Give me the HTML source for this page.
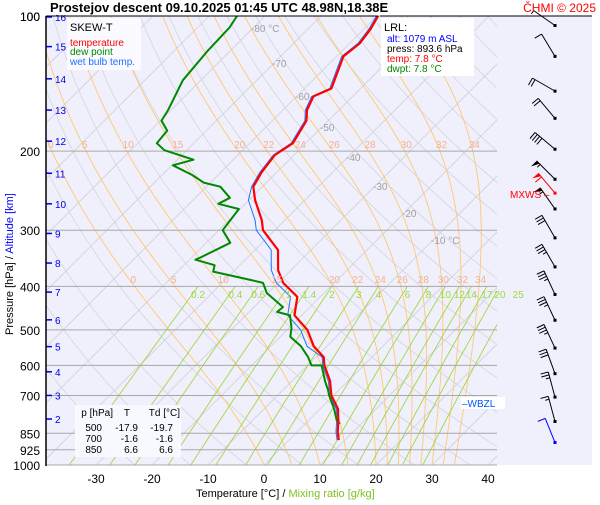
<!DOCTYPE html>
<html><head><meta charset="utf-8"><style>
body{margin:0;background:#fff;width:600px;height:500px;overflow:hidden}
svg text{font-family:"Liberation Sans",sans-serif}
</style></head><body>
<svg id="c" width="600" height="500" xmlns="http://www.w3.org/2000/svg">
<rect x="46" y="16" width="546" height="449" fill="#f0f0fc"/>
<g id="grid"></g><g id="series"></g><g id="labels"></g>
</svg>
<script>
const pressureTicks=[100,200,300,400,500,600,700,850,925,1000];
const tempTicks=[-30,-20,-10,0,10,20,30,40];
const isoTemps=[-110,-100,-90,-80,-70,-60,-50,-40,-30,-20,-10,0,10,20,30,40];
const moistThetaW=[0,5,10,15,20,22,24,26,28,30,32,34];
const mixingRatios=[0.2,0.4,0.6,1,1.4,2,3,4,6,8,10,12,14,17,20,25];
const altKm=[2,3,4,5,6,7,8,9,10,11,12,13,14,15,16];
const altKmPressure=[790,700,620,545,475,412,355,305,262,224,190,162,138,117,100.5];
const tempP=[880,845,800,750,700,650,600,575,544,500,464,422,393,368,332,300,285,257,240,223,204,192,171,162,151,145,123,115,107,100];
const tempT=[8.9,7.3,5.5,3.2,-0.4,-3.2,-7,-8.6,-12.3,-16.4,-21.3,-24.1,-29.1,-32.3,-35.9,-42.1,-44.1,-48.9,-51.6,-52.7,-53.4,-52.3,-53.9,-55.7,-57,-55.2,-58.8,-58.2,-58.8,-59.8];
const dewP=[810,795,750,700,680,650,600,600,575,544,518,496,464,456,445,414,393,387,371,359,349,345,320,300,269,262,254,240,235,226,215,209,199,192,180,171,162,139,120,106,100];
const dewT=[6.2,5,2.5,-0.8,-2,-4.1,-7.5,-9.3,-11.4,-14.6,-18.2,-19.5,-22.1,-25,-24.8,-30.2,-32.7,-35.5,-43.6,-44.5,-48.9,-48.4,-45.7,-49.3,-50.2,-54.8,-53.8,-57.5,-61.2,-64.6,-69.8,-67.1,-74,-76.6,-77,-79.8,-80.5,-83.2,-84,-84.3,-85];
const windP=[105,123,147,169,198,231,269,312,362,417,476,549,626,706,800,891];
const windDir=[305,329,300,320,310,315,325,330,330,335,335,335,340,345,345,338];
const windKt=[5,10,20,20,40,55,55,30,35,35,35,35,30,25,15,10];
const maxWindP=[248];
const maxWindDir=[320];
const maxWindKt=[60];

const X0=264,Y1000=465,K=5.6,H=449;
function yP(p){return 16+Math.log10(p/100)*H;}
function xT(t,p){return X0+K*t+(Y1000-yP(p));}
const NS="http://www.w3.org/2000/svg";
function mk(parent,tag,attrs){const e=document.createElementNS(NS,tag);for(const k in attrs)e.setAttribute(k,attrs[k]);document.getElementById(parent).appendChild(e);return e;}
function txt(parent,x,y,s,attrs){const e=mk(parent,'text',Object.assign({x:x,y:y},attrs));e.textContent=s;return e;}
function pathFrom(pts){return pts.map((q,i)=>(i?'L':'M')+q[0].toFixed(1)+','+q[1].toFixed(1)).join('');}
const clip=mk('grid','clipPath',{id:'pc'});
const cr=document.createElementNS(NS,'rect');cr.setAttribute('x',46);cr.setAttribute('y',16);cr.setAttribute('width',451);cr.setAttribute('height',449);clip.appendChild(cr);
const g=mk('grid','g',{'clip-path':'url(#pc)'});g.id='gg';
for(let th=250;th<=480;th+=10){const pts=[];for(let p=1000;p>=100;p-=10)pts.push([xT(th*Math.pow(p/1000,0.286)-273.15,p),yP(p)]);
const e=mk('gg','path',{d:pathFrom(pts),fill:'none',stroke:'#d4d4dc','stroke-width':0.8});
}
isoTemps.forEach(t=>{const e=mk('gg','line',{x1:xT(t,1000),y1:yP(1000),x2:xT(t,100),y2:yP(100),stroke:'#d0d0d8','stroke-width':0.8});
});
function es(t){return 6.112*Math.exp(17.67*t/(t+243.5));}
moistThetaW.forEach(tw=>{let t=tw,pts=[];for(let p=1000;p>=100;p-=5){pts.push([xT(t,p),yP(p)]);
const T=t+273.15,e=es(t),rs=0.622*e/(p-e),L=2.5e6;const dTdp=(287*T+L*rs)/(p*(1004+L*L*rs*0.622/(287*T*T)));t-=dTdp*5;}
const e=mk('gg','path',{d:pathFrom(pts),fill:'none',stroke:'#ffc870','stroke-width':0.9});

const p200=(1000-200)/5;const lb=txt('labels',pts[p200][0]-4,148,String(tw),{'font-size':10,fill:'#f5b090'});

const p400=(1000-400)/5;const lb2=txt('labels',pts[p400][0]-4,283,String(tw),{'font-size':10,fill:'#f5b090'});
});
mixingRatios.forEach(w=>{const pts=[];for(let p=1000;p>=400;p-=10){const e=w*p/(622+w),a=Math.log(e/6.112);pts.push([xT(243.5*a/(17.67-a),p),yP(p)]);}
const e=mk('gg','path',{d:pathFrom(pts),fill:'none',stroke:'#a0d840','stroke-width':0.9});

const lb=txt('labels',pts[pts.length-1][0],298,String(w),{'font-size':10,fill:'#a0d840','text-anchor':'middle'});
});
pressureTicks.forEach(p=>{const y=yP(p);const e=mk('grid','line',{x1:46,y1:y,x2:497,y2:y,stroke:'#a8a8a8','stroke-width':1});

const l=txt('labels',40,y+5,String(p),{'font-size':12,'text-anchor':'end',fill:'#000'});
});
[[-80,28],[-70,63],[-60,96],[-50,127],[-40,157],[-30,186],[-20,213],[-10,240]].forEach(a=>{const p=100*Math.pow(10,(a[1]-16)/H);
const l=txt('labels',xT(a[0],p)-2,a[1]+4,a[0]+(a[0]==-80||a[0]==-10?' °C':''),{'font-size':10,fill:'#a0a0a0'});
});
tempTicks.forEach(t=>{const l=txt('labels',xT(t,1000),483,String(t),{'font-size':12,'text-anchor':'middle'});
});
altKm.forEach((k,i)=>{const y=yP(altKmPressure[i]);mk('labels','line',{x1:46,y1:y,x2:52,y2:y,stroke:'#0000ee','stroke-width':1.5});
const l=txt('labels',55,y+4,String(k),{'font-size':10,fill:'#0000ee'});
});
function line(P,T,col,w,name){const e=mk('series','path',{d:pathFrom(P.map((p,i)=>[xT(T[i],p),yP(p)])),fill:'none',stroke:col,'stroke-width':w,'stroke-linejoin':'round'});
}
line(tempP,tempT.map((t,i)=>tempP[i]>250&&tempP[i]<560?t-1.2:t-0.3),'#2070ff',1,'wet-bulb-line');
line(dewP,dewT,'#008800',2,'dew-point-line');
line(tempP,tempT,'#ff0000',2.2,'temperature-line');
function barb(p,dir,kt,col){const x=555,y=yP(p);
const a=dir*Math.PI/180,L=26;const x2=x+Math.sin(a)*L,y2=y-Math.cos(a)*L;
const e=mk('series','line',{x1:x,y1:y,x2:x2,y2:y2,stroke:col,'stroke-width':1});

mk('series','rect',{x:x-1.5,y:y-1.5,width:3,height:3,fill:col});
let s=kt,pos=0;const px=Math.cos(a)*8,py=Math.sin(a)*8;
while(s>=50){const bx=x2-Math.sin(a)*pos,by=y2+Math.cos(a)*pos;mk('series','polygon',{points:`${bx},${by} ${bx-px},${by-py} ${bx-Math.sin(a)*4},${by+Math.cos(a)*4}`,fill:col});pos+=5;s-=50;}
while(s>=10){const bx=x2-Math.sin(a)*pos,by=y2+Math.cos(a)*pos;mk('series','line',{x1:bx,y1:by,x2:bx-px,y2:by-py,stroke:col});pos+=3;s-=10;}
if(s>=5){const bx=x2-Math.sin(a)*pos,by=y2+Math.cos(a)*pos;mk('series','line',{x1:bx,y1:by,x2:bx-px/2,y2:by-py/2,stroke:col});}}
windP.forEach((p,i)=>barb(p,windDir[i],windKt[i],i==windP.length-1?'#00f':'#000'));
maxWindP.forEach((p,i)=>barb(p,maxWindDir[i],maxWindKt[i],'#f00'));
</script>
<svg style="position:absolute;left:0;top:0" width="600" height="500">
<line x1="46" y1="16" x2="46" y2="466" stroke="#000" stroke-width="1.5"/>
<line x1="46" y1="16" x2="378" y2="16" stroke="#000"/>
<line x1="380" y1="16" x2="592" y2="16" stroke="#000"/>
<text x="40" y="21" font-size="12" text-anchor="end" font-family="Liberation Sans">100</text>
<rect x="48" y="0" width="330" height="15" fill="#fff"/>
<text x="50" y="12" font-size="13" font-weight="bold" font-family="Liberation Sans">Prostejov   descent   09.10.2025 01:45 UTC   48.98N,18.38E</text>
<text x="596" y="12" font-size="12" fill="#f00" text-anchor="end" font-family="Liberation Sans">ČHMI © 2025</text>
<rect x="67" y="18" width="74" height="52" fill="#fafaff"/>
<text x="70" y="31" font-size="11" font-family="Liberation Sans">SKEW-T</text>
<text x="70" y="46" font-size="10" fill="#f00" font-family="Liberation Sans">temperature</text>
<text x="70" y="55" font-size="10" fill="#080" font-family="Liberation Sans">dew point</text>
<text x="70" y="65" font-size="10" fill="#2070ff" font-family="Liberation Sans">wet bulb temp.</text>
<rect x="381" y="18" width="93" height="58" fill="#fff"/>
<text x="384" y="31" font-size="11" font-family="Liberation Sans">LRL:</text>
<text x="387" y="42" font-size="10" fill="#00f" font-family="Liberation Sans">alt: 1079 m ASL</text>
<text x="387" y="52" font-size="10" font-family="Liberation Sans">press: 893.6 hPa</text>
<text x="387" y="62" font-size="10" fill="#f00" font-family="Liberation Sans">temp: 7.8 °C</text>
<text x="387" y="72" font-size="10" fill="#080" font-family="Liberation Sans">dwpt: 7.8 °C</text>
<text x="510" y="198" font-size="10" fill="#f00" font-family="Liberation Sans">MXWS –</text>
<rect x="461" y="397" width="44" height="12" fill="#fff"/>
<text x="462" y="407" font-size="10" fill="#0055ff" font-family="Liberation Sans">–WBZL</text>
<rect x="75" y="405" width="106" height="52" fill="#f8f8ff"/>
<g font-size="10" font-family="Liberation Sans" text-anchor="end">
<text x="113" y="416">p [hPa]</text><text x="130" y="416">T</text><text x="180" y="416">Td [°C]</text>
<text x="102" y="431">500</text><text x="138" y="431">-17.9</text><text x="173" y="431">-19.7</text>
<text x="102" y="442">700</text><text x="138" y="442">-1.6</text><text x="173" y="442">-1.6</text>
<text x="102" y="453">850</text><text x="138" y="453">6.6</text><text x="173" y="453">6.6</text>
</g>
<text x="196" y="497" font-size="11" font-family="Liberation Sans">Temperature [°C]  /  <tspan fill="#80c020">Mixing ratio [g/kg]</tspan></text>
<text transform="translate(13,335) rotate(-90)" font-size="11" font-family="Liberation Sans">Pressure [hPa]  /  <tspan fill="#00f">Altitude [km]</tspan></text>
</svg>
</body></html>
